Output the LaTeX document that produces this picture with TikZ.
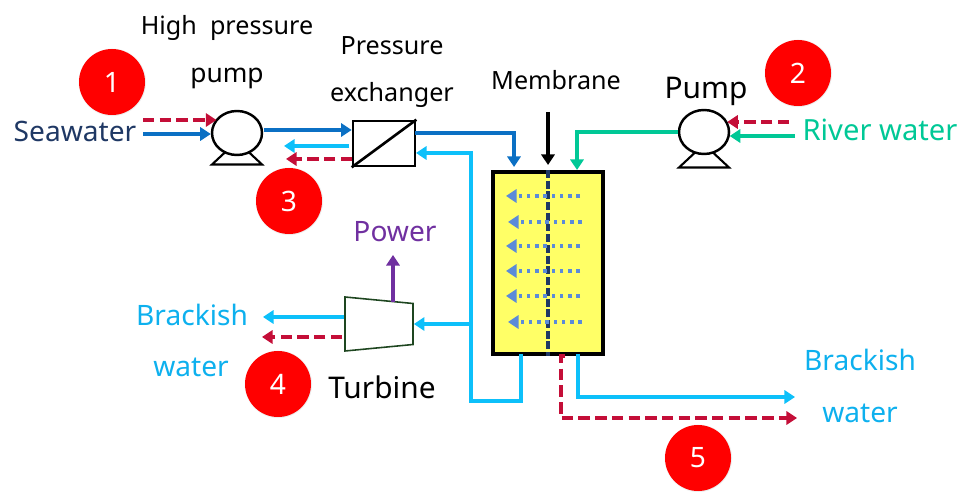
\documentclass[tikz,border=0pt]{standalone}
\usepackage{fontspec}
\setmainfont{Noto Sans}
\usetikzlibrary{arrows.meta}
\usetikzlibrary{shapes.geometric}
\usetikzlibrary{shadows}
\definecolor{seablue}{HTML}{0B70C4}
\definecolor{seanavy}{HTML}{1F3864}
\definecolor{riverteal}{HTML}{00C896}
\definecolor{brinecyan}{HTML}{0DC0FA}
\definecolor{labelcyan}{HTML}{0DB0EE}
\definecolor{energyred}{HTML}{C40E38}
\definecolor{powerpurple}{HTML}{7030A0}
\definecolor{turbinegreen}{HTML}{1E4620}
\definecolor{cellyellow}{HTML}{FFFF66}
\definecolor{fluxblue}{HTML}{5B8BD9}
\tikzstyle{label}=[font=\fontsize{16}{18}\selectfont, inner sep=0]
\tikzstyle{small label}=[label, font=\fontsize{14.3}{18}\selectfont]
\tikzstyle{large label}=[label, font=\fontsize{17}{18}\selectfont]
\tikzstyle{badge}=[circle, fill=red, text=white, minimum size=1.32cm, inner sep=0, font=\fontsize{16}{18}\selectfont, circular drop shadow={shadow scale=1.04, shadow xshift=0cm, shadow yshift=0cm, opacity=0.5}]
\tikzstyle{pump}=[draw, ellipse, fill=white, line width=1.4pt, minimum width=1cm, minimum height=0.88cm, inner sep=0]
\tikzstyle{pump base}=[draw, trapezium, trapezium stretches=true, trapezium angle=48, line width=1.2pt, minimum width=1cm, minimum height=0.3cm, inner sep=1pt]
\tikzstyle{exchanger}=[draw, line width=1.5pt, minimum width=1.24cm, minimum height=0.9cm, inner sep=0]
\tikzstyle{cell}=[draw, fill=cellyellow, line width=2.3pt, minimum width=2.2cm, minimum height=3.64cm, inner sep=0]
\tikzstyle{turbine}=[draw=turbinegreen, trapezium, trapezium stretches=true, trapezium angle=81, shape border rotate=270, line width=0.9pt, minimum width=1.08cm, minimum height=1.36cm, inner sep=1pt]
\tikzstyle{flow}=[line width=2.1pt, -{Triangle[length=6pt, width=7.5pt]}]
\tikzstyle{energy flow}=[flow, energyred, dash pattern=on 6.5pt off 3pt]
\tikzstyle{flux}=[line width=2.1pt, fluxblue, dash pattern=on 2pt off 2.7pt, -{Triangle[length=6pt, width=7.5pt]}]

\begin{document}
\begin{tikzpicture}
      \useasboundingbox (0, 0) rectangle (19.18, 9.82);

      \node[pump base] (hp base) at (4.74, 6.68) {};
      \node[pump] (hp pump) at (4.74, 7.16) {};
      \node[pump base] (river base) at (14.08, 6.62) {};
      \node[pump] (river pump) at (14.08, 7.18) {};
      \node[exchanger] (exchanger) at (7.68, 6.95) {};
      \node[cell] (cell) at (10.96, 4.56) {};
      \node[turbine] (turbine) at (7.58, 3.34) {};

      \node[label, seanavy] (seawater) at (1.5, 7.2) {Seawater};
      \node[small label] (hp line one) at (4.54, 9.26) {High\ \ pressure};
      \node[label, font=\fontsize{15}{18}\selectfont] (hp line two) at (4.54, 8.26) {pump};
      \node[small label] (ex line one) at (7.84, 8.9) {Pressure};
      \node[small label] (ex line two) at (7.84, 7.93) {exchanger};
      \node[small label] (membrane) at (11.12, 8.22) {Membrane};
      \node[large label] (pump label) at (14.12, 8.0) {Pump};
      \node[large label, riverteal, font=\fontsize{16.6}{18}\selectfont] (river water) at (17.6, 7.22) {River\ water};
      \node[label, powerpurple] (power) at (7.9, 5.18) {Power};
      \node[label, labelcyan] (brackish left) at (3.84, 3.52) {Brackish};
      \node[label, labelcyan] (water left) at (3.82, 2.48) {water};
      \node[large label] (turbine label) at (7.64, 2.08) {Turbine};
      \node[label, labelcyan] (brackish right) at (17.2, 2.62) {Brackish};
      \node[label, labelcyan] (water right) at (17.2, 1.56) {water};

      \node[badge] (one) at (2.24, 8.18) {1};
      \node[badge] (two) at (15.96, 8.36) {2};
      \node[badge] (three) at (5.78, 5.8) {3};
      \node[badge] (four) at (5.56, 2.14) {4};
      \node[badge] (five) at (13.96, 0.66) {5};

      \coordinate (sea start) at (2.86, 7.14);
      \coordinate (sea energy) at (2.86, 7.42);
      \coordinate (hp out) at (5.28, 7.22);
      \coordinate (ex out) at (8.3, 7.16);
      \coordinate (cell sea) at (10.28, 6.48);
      \coordinate (cell river) at (11.54, 6.42);
      \coordinate (river start) at (15.9, 7.1);
      \coordinate (river energy) at (15.78, 7.38);
      \coordinate (ex brine) at (6.98, 6.9);
      \coordinate (ex brine end) at (5.68, 6.9);
      \coordinate (ex energy) at (7.04, 6.64);
      \coordinate (ex energy end) at (5.72, 6.64);
      \coordinate (brine out) at (10.42, 2.74);
      \coordinate (brine corner) at (9.42, 1.8);
      \coordinate (ex in) at (8.32, 6.76);
      \coordinate (turbine tee) at (9.42, 3.34);
      \coordinate (turbine brine) at (6.88, 3.48);
      \coordinate (turbine brine end) at (5.26, 3.48);
      \coordinate (turbine energy) at (6.84, 3.08);
      \coordinate (turbine energy end) at (5.24, 3.08);
      \coordinate (shaft) at (7.86, 3.78);
      \coordinate (shaft end) at (7.86, 4.72);
      \coordinate (membrane top) at (10.96, 7.58);
      \coordinate (membrane end) at (10.96, 6.52);
      \coordinate (river out) at (11.56, 2.74);
      \coordinate (river out end) at (15.9, 1.88);
      \coordinate (energy out) at (11.3, 2.7);
      \coordinate (energy bend) at (11.22, 2.7);
      \coordinate (energy low) at (11.22, 1.46);
      \coordinate (energy out end) at (15.94, 1.46);

      \draw[line width=1.5pt] (exchanger.south west) to (exchanger.north east);
      \draw[line width=2.3pt, seanavy, dash pattern=on 4.5pt off 1.6pt] (cell.north) to (cell.south);
      \foreach \y/\x in {5.9/0, 5.38/0.04, 4.9/0, 4.4/0, 3.9/0, 3.38/0.04}
        \draw[flux] (11.6 + \x, \y) to (10.12 + \x, \y);

      \draw[flow, seablue] (sea start) to (sea start -| hp pump.west);
      \draw[energy flow] (sea energy) to (sea energy -| hp pump.145);
      \draw[flow, seablue] (hp out) to (hp out -| exchanger.west);
      \draw[flow, seablue] (ex out) -| (cell sea);
      \draw[flow, riverteal] (river pump.west) -| (cell river);
      \draw[flow, riverteal] (river start) to (river start -| river pump.-10);
      \draw[energy flow] (river energy) to (river energy -| river pump.25);
      \draw[flow, brinecyan] (ex brine) to (ex brine end);
      \draw[energy flow] (ex energy) to (ex energy end);
      \draw[flow, brinecyan] (brine out)
        |- (brine corner)
        |- (ex in);
      \draw[flow, brinecyan] (turbine tee) to (turbine.east);
      \draw[flow, brinecyan] (turbine brine) to (turbine brine end);
      \draw[energy flow] (turbine energy) to (turbine energy end);
      \draw[flow, powerpurple] (shaft) to (shaft end);
      \draw[flow, black] (membrane top) to (membrane end);
      \draw[flow, brinecyan] (river out) |- (river out end);
      \draw[energy flow] (energy out)
        to (energy bend)
        to (energy low)
        to (energy out end);
    \end{tikzpicture}
\end{document}
